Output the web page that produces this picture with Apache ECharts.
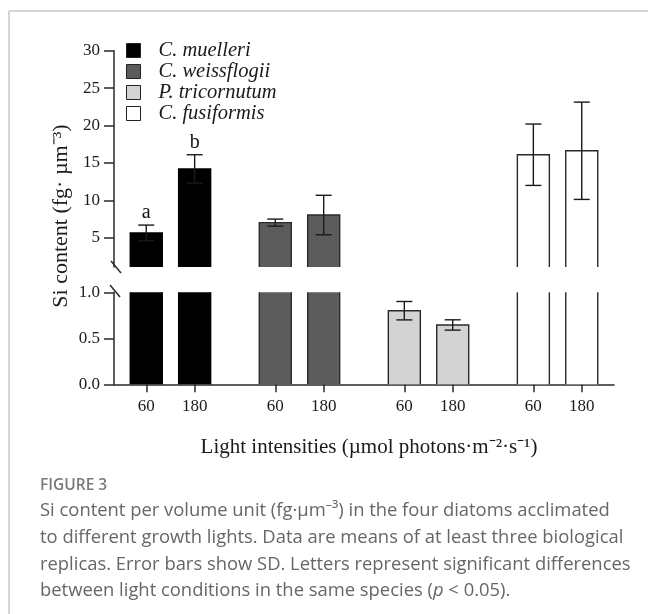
<!DOCTYPE html>
<html><head><meta charset="utf-8">
<script src="https://cdn.jsdelivr.net/npm/echarts@6/dist/echarts.min.js"></script>
<style>html,body{margin:0;padding:0;background:#fff}#c{width:648px;height:614px}</style>
</head><body><div id="c"></div>
<script>
// ---- data ----
const species = ['C. muelleri', 'C. weissflogii', 'P. tricornutum', 'C. fusiformis'];
const lights = ['60', '180'];
const meanValues = [[5.65, 14.2], [7.03, 8.04], [0.80, 0.645], [16.1, 16.63]];
const sdValues = [[1.05, 1.9], [0.47, 2.64], [0.10, 0.056], [4.1, 6.5]];
const letters = [['a', 'b'], ['', ''], ['', ''], ['', '']];
const upperTicks = [5, 10, 15, 20, 25, 30];
const upperRange = [1.1, 30];
const lowerRange = [0, 1];
const colors = ['#000000', '#5c5c5c', '#d3d3d3', '#ffffff'];

// ---- layout ----
const L = 114, W = 500, UT = 50.7, UB = 267, LT = 292.3, LB = 384.3;
const serif = "'Liberation Serif','Times New Roman',serif";
const sans = "'Open Sans','Noto Sans',sans-serif";
const axisColor = '#2a2a2a';
function xOf(g, l) { return g * 8 + 2 + l * 3; }

const tickPos = [], tickLab = {};
species.forEach((s, g) => lights.forEach((lt, l) => { tickPos.push(xOf(g, l)); tickLab[xOf(g, l)] = lt; }));

const series = [];
species.forEach((name, g) => {
  const up = [], lo = [];
  lights.forEach((lt, l) => {
    const v = meanValues[g][l];
    if (v > upperRange[0]) up.push([xOf(g, l), v]);
    lo.push([xOf(g, l), v]);
  });
  series.push({ type: 'bar', name, xAxisIndex: 0, yAxisIndex: 0, data: up, barWidth: 32, barGap: '-100%',
    itemStyle: { color: colors[g], borderWidth: 0 }, silent: true, animation: false });
  series.push({ type: 'bar', name, xAxisIndex: 1, yAxisIndex: 1, data: lo, barWidth: 32, barGap: '-100%',
    itemStyle: { color: colors[g], borderWidth: 0 }, silent: true, animation: false });
});

const pts = [];
species.forEach((s, g) => lights.forEach((lt, l) => pts.push([xOf(g, l), meanValues[g][l], sdValues[g][l], g, l])));

function outline(params, api) {
  const x = api.value(0), v = api.value(1), g = api.value(3);
  const cs = params.coordSys, top = cs.y, bottom = cs.y + cs.height;
  const p = api.coord([x, v]);
  if (p[1] >= bottom) return null;
  const hw = 16, x0 = p[0] - hw, x1 = p[0] + hw;
  const st = { stroke: g === 0 ? '#000' : '#2a2a2a', lineWidth: 1.4, fill: null };
  if (p[1] >= top) {
    return { type: 'polyline', shape: { points: [[x0, bottom], [x0, p[1]], [x1, p[1]], [x1, bottom]] }, style: st };
  }
  return { type: 'group', children: [
    { type: 'line', shape: { x1: x0, y1: top, x2: x0, y2: bottom }, style: st },
    { type: 'line', shape: { x1: x1, y1: top, x2: x1, y2: bottom }, style: st }
  ] };
}
function errbar(params, api) {
  const x = api.value(0), m = api.value(1), s = api.value(2), g = api.value(3), l = api.value(4);
  const cs = params.coordSys, top = cs.y, bottom = cs.y + cs.height;
  const ph = api.coord([x, m + s]), pl = api.coord([x, m - s]);
  const y1 = Math.max(ph[1], top), y2 = Math.min(pl[1], bottom);
  if (y1 >= y2) return null;
  const cx = ph[0], cw = 8;
  const st = { stroke: '#1a1a1a', lineWidth: 1.4 };
  const ch = [{ type: 'line', shape: { x1: cx, y1: y1, x2: cx, y2: y2 }, style: st }];
  if (ph[1] >= top) ch.push({ type: 'line', shape: { x1: cx - cw, y1: ph[1], x2: cx + cw, y2: ph[1] }, style: st });
  if (pl[1] <= bottom) ch.push({ type: 'line', shape: { x1: cx - cw, y1: pl[1], x2: cx + cw, y2: pl[1] }, style: st });
  const letter = letters[g][l];
  if (letter && ph[1] >= top) {
    ch.push({ type: 'text', x: cx, y: ph[1] - 12, style: { text: letter, font: '20px ' + serif, fill: '#111',
      align: 'center', verticalAlign: 'middle', textAlign: 'center', textVerticalAlign: 'middle' } });
  }
  return { type: 'group', children: ch };
}
[0, 1].forEach(i => {
  series.push({ type: 'custom', xAxisIndex: i, yAxisIndex: i, data: pts, renderItem: outline, silent: true, animation: false, z: 3 });
  series.push({ type: 'custom', xAxisIndex: i, yAxisIndex: i, data: pts, renderItem: errbar, silent: true, animation: false, z: 4 });
});

const axLine = { show: true, onZero: false, lineStyle: { color: axisColor, width: 1.5 } };
const tickStyle = { color: axisColor, width: 1.5 };
const labStyle = { fontFamily: serif, fontSize: 17, color: '#1a1a1a' };

const sl = (cx, cy) => ({ type: 'line', shape: { x1: cx - 5, y1: cy - 6, x2: cx + 5, y2: cy + 6 },
  style: { stroke: axisColor, lineWidth: 1.5 } });

const capFont = '18.4px ' + sans, capColor = '#666';
const option = {
  backgroundColor: '#fff',
  animation: false,
  grid: [
    { left: L, width: W, top: UT, height: UB - UT },
    { left: L, width: W, top: LT, height: LB - LT }
  ],
  xAxis: [
    { gridIndex: 0, type: 'value', min: 0, max: 31, show: false },
    { gridIndex: 1, type: 'value', min: 0, max: 31, axisLine: axLine,
      axisTick: { show: true, customValues: tickPos, length: 8, lineStyle: tickStyle },
      axisLabel: Object.assign({ customValues: tickPos, margin: 14, formatter: v => tickLab[v] || '' }, labStyle),
      splitLine: { show: false } }
  ],
  yAxis: [
    { gridIndex: 0, type: 'value', min: upperRange[0], max: upperRange[1], axisLine: axLine,
      axisTick: { show: true, customValues: upperTicks, length: 10, lineStyle: tickStyle },
      axisLabel: Object.assign({ customValues: upperTicks, margin: 14 }, labStyle),
      splitLine: { show: false } },
    { gridIndex: 1, type: 'value', min: lowerRange[0], max: lowerRange[1], interval: 0.5, axisLine: axLine,
      axisTick: { show: true, length: 10, lineStyle: tickStyle },
      axisLabel: Object.assign({ margin: 14, formatter: v => v.toFixed(1) }, labStyle),
      splitLine: { show: false } }
  ],
  legend: {
    orient: 'vertical', left: 126, top: 40, padding: 0, itemGap: 0, itemWidth: 14, itemHeight: 14,
    icon: 'rect', selectedMode: false,
    data: species.map((n, g) => ({ name: n, itemStyle: { color: colors[g], borderColor: '#222', borderWidth: 1 } })),
    textStyle: { fontFamily: serif, fontStyle: 'italic', fontSize: 20.5, color: '#1a1a1a', lineHeight: 21, padding: [0, 0, 0, 13] }
  },
  series,
  graphic: [
    { type: 'line', shape: { x1: 9, y1: 11, x2: 648, y2: 11 }, style: { stroke: '#c8c8c8', lineWidth: 1.5 } },
    { type: 'line', shape: { x1: 9, y1: 11, x2: 9, y2: 614 }, style: { stroke: '#c8c8c8', lineWidth: 1.5 } },
    sl(116, 267), sl(115, 291),
    { type: 'text', x: 61, y: 216, rotation: Math.PI / 2,
      style: { text: 'Si content (fg· µm⁻³)', font: '22px ' + serif, fill: '#1a1a1a', align: 'center', verticalAlign: 'middle' } },
    { type: 'text', x: 369, y: 447,
      style: { text: 'Light intensities (µmol photons·m⁻²·s⁻¹)', font: '21px ' + serif, fill: '#1a1a1a', align: 'center', verticalAlign: 'middle' } },
    { type: 'text', x: 40, y: 486, style: { text: 'FIGURE 3', font: '600 15.5px ' + sans, fill: '#7a7a7a', align: 'left', verticalAlign: 'middle' } },
    { type: 'text', x: 40, y: 511, style: { text: 'Si content per volume unit (fg·µm⁻³) in the four diatoms acclimated', font: capFont, fill: capColor, align: 'left', verticalAlign: 'middle' } },
    { type: 'text', x: 40, y: 538, style: { text: 'to different growth lights. Data are means of at least three biological', font: capFont, fill: capColor, align: 'left', verticalAlign: 'middle' } },
    { type: 'text', x: 40, y: 565, style: { text: 'replicas. Error bars show SD. Letters represent significant differences', font: capFont, fill: capColor, align: 'left', verticalAlign: 'middle' } },
    { type: 'text', x: 40, y: 591, style: { text: '{n|between light conditions in the same species (}{i|p}{n| < 0.05).}',
      rich: { n: { font: capFont, fill: capColor }, i: { font: 'italic ' + capFont, fill: capColor } },
      align: 'left', verticalAlign: 'middle' } }
  ]
};
const chart = echarts.init(document.getElementById('c'));
chart.setOption(option);
</script>
</body></html>
